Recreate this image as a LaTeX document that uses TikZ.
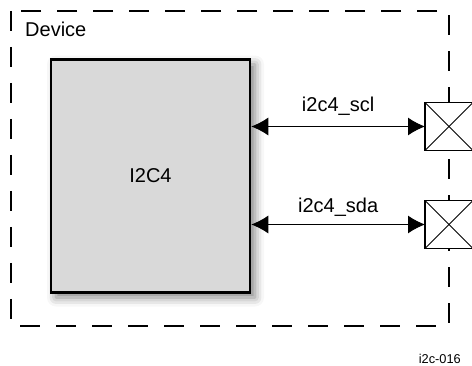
\documentclass[tikz,border=0pt]{standalone}
\usepackage{fontspec}
\setmainfont{Liberation Sans}
\usetikzlibrary{positioning,arrows.meta,shadows.blur}

\tikzset{
  devbox/.style={line width=2pt, dash pattern=on 20pt off 16pt},
  block/.style={draw, line width=2.5pt, fill=black!15,
    minimum width=199pt, minimum height=233pt,
    blur shadow={shadow xshift=5pt, shadow yshift=-5pt,
      shadow blur radius=9pt, shadow opacity=50}},
  pad/.style={draw, line width=1.3pt, fill=white, minimum size=48pt,
    inner sep=0pt, outer sep=0pt},
  sig/.style={line width=1pt, {Latex[length=17pt,width=18pt]}-{Latex[length=17pt,width=18pt]}}
}

\begin{document}
\begin{tikzpicture}[x=1pt, y=-1pt, font=\fontsize{20}{24}\selectfont]
    \useasboundingbox (0,0) rectangle (472,366);
    \clip (0,0) rectangle (472,366);

    % Device outline
    \draw[devbox] (11,11) rectangle (449,326);
    \node[anchor=base west, inner sep=0pt] (dev) at (25,37) {Device};

    % I2C4 block
    \node[block] (i2c) at (150.5,176) {I2C4};

    % Pads
    \node[pad] (padscl) at (449,126.5) {};
    \node[pad] (padsda) at (449,224.5) {};
    \foreach \p in {padscl,padsda} {
        \draw[line width=1pt] (\p.north west) -- (\p.south east);
        \draw[line width=1pt] (\p.south west) -- (\p.north east);
    }

    % Signals
    \draw[sig] (i2c.east |- padscl) -- (padscl.west)
        node[pos=0.5, anchor=base, yshift=15pt, inner sep=0pt] (lblscl) {i2c4\_scl};
    \draw[sig] (i2c.east |- padsda) -- (padsda.west)
        node[pos=0.5, anchor=base, yshift=12pt, inner sep=0pt] (lblsda) {i2c4\_sda};

    % Figure id
    \node[anchor=base east, inner sep=0pt, font=\fontsize{12.8}{15}\selectfont] (figid) at (461,364) {i2c-016};
\end{tikzpicture}
\end{document}
